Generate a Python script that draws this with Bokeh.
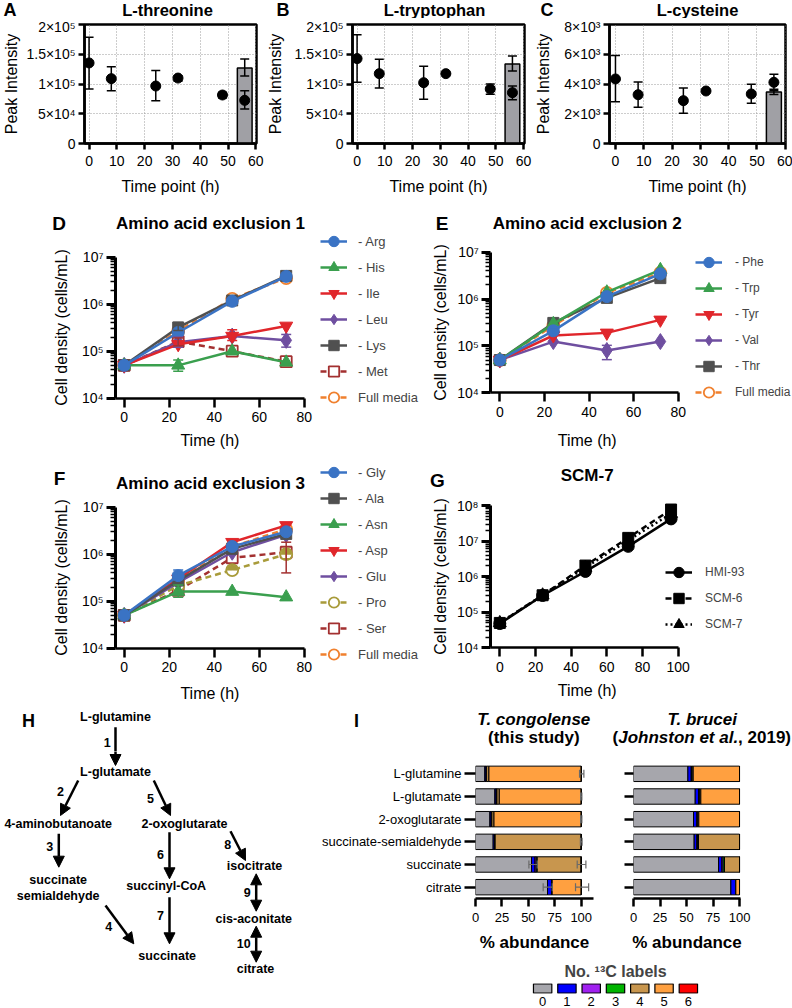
import numpy as np
from bokeh.plotting import figure
from bokeh.layouts import row, column
from bokeh.models import (ColumnDataSource, Range1d, FactorRange, FixedTicker, CustomJSTickFormatter,
                          Whisker, TeeHead, Label, Legend, LegendItem, Arrow, NormalHead)
from bokeh.core.properties import value
from bokeh.embed import file_html
from bokeh.resources import INLINE

FONT = "Liberation Sans"

# ---------------- data: panels A-C ----------------
TIME_PT = [0, 8, 24, 32, 48, 56]
BAR_X = [56]
TIME_TICKS_ABC = [0, 10, 20, 30, 40, 50, 60]

THR_MEAN = [1.354e5, 1.09e5, 0.966e5, 1.10e5, 0.815e5, 0.725e5]
THR_LO = [0.916e5, 0.888e5, 0.719e5, 1.045e5, 0.764e5, 0.579e5]
THR_HI = [1.787e5, 1.29e5, 1.225e5, 1.14e5, 0.86e5, 0.888e5]
THR_BAR = [1.27e5]
THR_BAR_LO = [1.135e5]
THR_BAR_HI = [1.42e5]

TRP_MEAN = [1.427e5, 1.174e5, 1.022e5, 1.174e5, 0.916e5, 0.854e5]
TRP_LO = [1.028e5, 0.933e5, 0.742e5, 1.174e5, 0.826e5, 0.736e5]
TRP_HI = [1.826e5, 1.416e5, 1.298e5, 1.174e5, 1.0e5, 0.966e5]
TRP_BAR = [1.337e5]
TRP_BAR_LO = [1.22e5]
TRP_BAR_HI = [1.47e5]

CYS_MEAN = [4.34e3, 3.28e3, 2.88e3, 3.53e3, 3.33e3, 4.11e3]
CYS_LO = [2.81e3, 2.43e3, 2.04e3, 3.53e3, 2.70e3, 3.55e3]
CYS_HI = [5.91e3, 4.13e3, 3.73e3, 3.53e3, 3.98e3, 4.65e3]
CYS_BAR = [3.46e3]
CYS_BAR_LO = [3.30e3]
CYS_BAR_HI = [3.64e3]

AB_YTICKS = [0, 5e4, 1e5, 1.5e5, 2e5]
AB_YLABELS = ["0", "5×10⁴", "1×10⁵", "1.5×10⁵", "2×10⁵"]
C_YTICKS = [0, 2e3, 4e3, 6e3, 8e3]
C_YLABELS = ["0", "2×10³", "4×10³", "6×10³", "8×10³"]

# ---------------- data: panels D-G ----------------
TIME_G = [0, 24, 48, 72]
TIME_SCM = [0, 24, 48, 72, 96]
T80_TICKS = [0, 20, 40, 60, 80]
T100_TICKS = [0, 20, 40, 60, 80, 100]
LOG7_TICKS = [1e4, 1e5, 1e6, 1e7]
LOG7_LABELS = ["10⁴", "10⁵", "10⁶", "10⁷"]
LOG8_TICKS = [1e4, 1e5, 1e6, 1e7, 1e8]
LOG8_LABELS = ["10⁴", "10⁵", "10⁶", "10⁷", "10⁸"]

D_NAMES = ["- Arg", "- His", "- Ile", "- Leu", "- Lys", "- Met", "Full media"]
D_ARG = [5.0e4, 2.5e5, 1.15e6, 3.9e6]
D_HIS = [5.0e4, 5.0e4, 1.0e5, 5.8e4]
D_ILE = [5.0e4, 1.4e5, 2.1e5, 3.45e5]
D_LEU = [5.0e4, 1.55e5, 2.1e5, 1.7e5]
D_LYS = [5.0e4, 3.2e5, 1.2e6, 4.0e6]
D_MET = [5.0e4, 1.6e5, 1.0e5, 6.0e4]
D_FULL = [5.0e4, 2.7e5, 1.3e6, 3.6e6]
D_ERR_NAME = ["- His", "- Ile", "- Leu", "- Leu", "- Lys", "- Met"]
D_ERR_T = [24, 48, 24, 72, 24, 24]
D_ERR_LO = [3.75e4, 1.69e5, 1.22e5, 1.22e5, 2.76e5, 1.3e5]
D_ERR_HI = [6.5e4, 2.85e5, 2.0e5, 2.27e5, 4.1e5, 1.9e5]

E_NAMES = ["- Phe", "- Trp", "- Tyr", "- Val", "- Thr", "Full media"]
E_PHE = [5.0e4, 2.1e5, 1.13e6, 3.45e6]
E_TRP = [5.0e4, 2.96e5, 1.4e6, 4.2e6]
E_TYR = [5.0e4, 1.67e5, 1.9e5, 3.6e5]
E_VAL = [5.0e4, 1.24e5, 8.0e4, 1.24e5]
E_THR = [5.0e4, 3.1e5, 1.06e6, 2.8e6]
E_FULL = [5.0e4, 2.7e5, 1.35e6, 3.6e6]
E_ERR_NAME = ["- Val", "- Phe"]
E_ERR_T = [48, 24]
E_ERR_LO = [5.1e4, 1.75e5]
E_ERR_HI = [1.03e5, 2.5e5]

F_NAMES = ["- Gly", "- Ala", "- Asn", "- Asp", "- Glu", "- Pro", "- Ser", "Full media"]
F_GLY = [5.0e4, 3.5e5, 1.46e6, 3.0e6]
F_ALA = [5.0e4, 2.75e5, 1.3e6, 2.7e6]
F_ASN = [5.0e4, 1.6e5, 1.6e5, 1.22e5]
F_ASP = [5.0e4, 3.0e5, 1.8e6, 4.1e6]
F_GLU = [5.0e4, 2.5e5, 1.1e6, 2.6e6]
F_PRO = [5.0e4, 2.15e5, 4.6e5, 1.0e6]
F_SER = [5.0e4, 1.7e5, 8.4e5, 1.1e6]
F_FULL = [5.0e4, 2.75e5, 1.45e6, 3.4e6]
F_ERR_NAME = ["- Gly", "- Asn", "- Ser", "- Pro"]
F_ERR_T = [24, 24, 72, 72]
F_ERR_LO = [2.9e5, 1.22e5, 4.0e5, 8.0e5]
F_ERR_HI = [4.6e5, 2.2e5, 1.8e6, 1.25e6]

G_NAMES = ["HMI-93", "SCM-6", "SCM-7"]
G_HMI = [4.8e4, 2.95e5, 1.4e6, 7.1e6, 4.2e7]
G_SCM6 = [5.0e4, 3.0e5, 2.05e6, 1.23e7, 7.7e7]
G_SCM7 = [5.0e4, 3.0e5, 1.8e6, 1.05e7, 5.9e7]

# ---------------- data: panel H (pathway diagram) ----------------
H_NODES = ["L-glutamine", "L-glutamate", "4-aminobutanoate", "2-oxoglutarate", "succinate",
           "semialdehyde", "succinyl-CoA", "isocitrate", "cis-aconitate", "succinate", "citrate"]
H_STEPS = ["1", "2", "3", "4", "5", "6", "7", "8", "9", "10"]
H_REVERSIBLE = [False, False, False, False, False, False, False, False, True, True]
# diagram layout (page pixels)
H_NODE_X = [115, 115, 57.7, 184, 57.7, 57.7, 165.7, 254, 253.3, 166.7, 255]
H_NODE_Y = [716.7, 771.7, 823.3, 823.3, 879, 895.7, 885.7, 865.7, 918.3, 955, 968.3]
H_ARR_X0 = [115, 77.7, 58.3, 105, 153.3, 169, 169, 230, 255.7, 255.7]
H_ARR_Y0 = [726.7, 780, 833.3, 905, 780, 831.7, 896.7, 830.7, 873.3, 925.7]
H_ARR_X1 = [115, 60, 58.3, 133.3, 170, 169, 169, 245, 255.7, 255.7]
H_ARR_Y1 = [765, 815, 866.7, 943.3, 815, 878.3, 943.3, 860, 910.7, 961.7]
H_LAB_X = [106.7, 60, 49.3, 108.3, 150, 160, 160, 227.3, 246.7, 243.3]
H_LAB_Y = [741.7, 790.7, 845.7, 926, 798.3, 854, 915, 844, 892.3, 943.3]

# ---------------- data: panel I (13C labelling) ----------------
METABS = ["L-glutamine", "L-glutamate", "2-oxoglutarate", "succinate-semialdehyde", "succinate", "citrate"]
N13C = ["0", "1", "2", "3", "4", "5", "6"]
TC_M0 = [8.8, 18.3, 13.6, 16.7, 53.0, 68.1]
TC_M1 = [1.2, 1.2, 1.2, 1.2, 3.2, 4.4]
TC_M2 = [0.3, 0.5, 0.4, 0.4, 1.2, 0.0]
TC_M3 = [0.2, 0.3, 0.3, 0.3, 1.0, 0.0]
TC_M4 = [2.2, 2.2, 2.0, 81.4, 41.6, 0.0]
TC_M5 = [87.3, 77.5, 82.5, 0.0, 0.0, 27.5]
TC_M6 = [0.0, 0.0, 0.0, 0.0, 0.0, 0.0]
TB_M0 = [51.3, 58.2, 56.6, 57.2, 80.2, 91.8]
TB_M1 = [3.1, 3.1, 3.1, 2.5, 3.1, 4.7]
TB_M2 = [0.5, 0.6, 0.5, 0.6, 1.2, 0.0]
TB_M3 = [0.4, 0.5, 0.4, 1.0, 1.3, 0.0]
TB_M4 = [1.0, 1.1, 1.0, 38.7, 14.2, 0.0]
TB_M5 = [43.7, 36.5, 38.4, 0.0, 0.0, 3.5]
TB_M6 = [0.0, 0.0, 0.0, 0.0, 0.0, 0.0]
TC_ERR_MET = ["L-glutamine", "L-glutamate", "2-oxoglutarate", "succinate-semialdehyde",
              "succinate", "succinate", "citrate", "citrate"]
TC_ERR_LO = [98.4, 99.4, 99.4, 99.2, 50.5, 96.2, 64.0, 94.6]
TC_ERR_HI = [102.5, 100.6, 100.6, 100.8, 58.4, 104.4, 72.6, 107.0]
I_XTICKS = [0, 25, 50, 75, 100]

# ---------------- styles ----------------
BLUE, GREEN, RED, PURPLE = "#3A73C4", "#3A9F4E", "#E0262B", "#6F4FA0"
GRAY, DARKRED, ORANGE, OLIVE = "#505050", "#A33030", "#F0802E", "#A89B3A"
BAR_GRAY = "#A0A0A5"
LABEL_COLORS = ["#A6A6AC", "#0000FF", "#A020F0", "#00B400", "#C8964E", "#FFA040", "#FF0000"]
MSIZE = {"circle": 12, "square": 11, "triangle": 13, "inverted_triangle": 13, "diamond": 16, "half": 12}
BAR_W = 5.3


def new_fig(w, h, xr, yr, ytype="linear", xloc="below", yloc="left", l=0, r=0, t=0, b=0):
    p = figure(width=w, height=h, x_range=xr, y_range=yr, y_axis_type=ytype,
               x_axis_location=xloc, y_axis_location=yloc, title=None,
               output_backend="svg", toolbar_location=None,
               min_border_left=l, min_border_right=r, min_border_top=t, min_border_bottom=b)
    p.background_fill_color = "white"
    p.border_fill_color = "white"
    p.outline_line_color = None
    p.grid.visible = False
    return p


def style_axis(ax, lw=2.5, tick_out=8, size="14px", standoff=4):
    ax.axis_line_width = lw
    ax.axis_line_color = "black"
    ax.major_tick_line_width = lw
    ax.major_tick_line_color = "black"
    ax.major_tick_out = tick_out
    ax.major_tick_in = 0
    ax.minor_tick_line_color = None
    ax.major_label_text_font = FONT
    ax.major_label_text_font_size = size
    ax.major_label_text_color = "black"
    ax.major_label_standoff = standoff
    ax.axis_label_text_font = FONT
    ax.axis_label_text_font_style = "normal"
    ax.axis_label_text_color = "black"


def fixed_labels(vals, labs):
    return CustomJSTickFormatter(args=dict(vals=vals, labs=labs), code="""
        for (let i = 0; i < vals.length; i++) {
            if (Math.abs(vals[i] - tick) <= 1e-6 * Math.max(1, Math.abs(vals[i]))) return labs[i];
        }
        return "";
    """)


class Strip:
    """A text-only canvas whose data units are page pixels (offset by its page origin)."""

    def __init__(self, w, h, px0, py0):
        self.px0, self.py0, self.w, self.h = px0, py0, w, h
        self.p = new_fig(w, h, Range1d(0, w), Range1d(h, 0), xloc=None, yloc=None)

    def text(self, x, y, text, size, style="normal", align="center"):
        self.p.text(x=[x - self.px0], y=[y - self.py0], text=[text], text_font=value(FONT),
                    text_font_size=size, text_font_style=style, text_align=align,
                    text_baseline="middle", text_color="black")


def slabel(p, cx0, cy1, px, py, text, size, style="normal", align="center", angle=0.0):
    p.add_layout(Label(x=px - cx0, y=cy1 - py, x_units="screen", y_units="screen", text=text,
                       text_font=FONT, text_font_size=size, text_font_style=style,
                       text_align=align, text_baseline="middle", angle=angle, text_color="black"))


def whisk(p, xs, lo, hi, color, size=10, lw=1.5):
    src = ColumnDataSource(dict(x=xs, lo=lo, hi=hi))
    w = Whisker(source=src, base="x", lower="lo", upper="hi", dimension="height",
                line_color=color, line_width=lw, level="glyph",
                upper_head=TeeHead(size=size, line_color=color, line_width=lw),
                lower_head=TeeHead(size=size, line_color=color, line_width=lw))
    p.add_layout(w)


# ---------------- row 1: panels A-C ----------------
strip1 = Strip(792, 18, 0, 0)
for txt, x, al, sz in [("A", 3, "left", "18px"), ("L-threonine", 167, "center", "16.5px"),
                       ("B", 276, "left", "18px"), ("L-tryptophan", 434, "center", "16.5px"),
                       ("C", 540, "left", "18px"), ("L-cysteine", 697, "center", "16.5px")]:
    strip1.text(x, 9, txt, sz, "bold", al)


def intensity_panel(w, l, r, xr, yt, ylabs, mean, lo, hi, bar, bar_lo, bar_hi, ylab_standoff):
    p = new_fig(w, 192, Range1d(*xr), Range1d(yt[0], yt[-1]), l=l, r=r, t=6, b=67)
    p.outline_line_color = "black"
    p.outline_line_width = 2.5
    xa, ya = p.xaxis[0], p.yaxis[0]
    style_axis(xa, tick_out=6, size="14px", standoff=6)
    style_axis(ya, tick_out=6, size="14px", standoff=3)
    xa.ticker = FixedTicker(ticks=TIME_TICKS_ABC)
    ya.ticker = FixedTicker(ticks=yt)
    ya.formatter = fixed_labels(yt, ylabs)
    xa.axis_label = "Time point (h)"
    xa.axis_label_text_font_size = "16px"
    xa.axis_label_standoff = 9
    ya.axis_label = "Peak Intensity"
    ya.axis_label_text_font_size = "16px"
    ya.axis_label_standoff = ylab_standoff
    for g in (p.xgrid[0], p.ygrid[0]):
        g.visible = True
        g.grid_line_color = "#9a9a9a"
        g.grid_line_dash = "1 2"
        g.grid_line_width = 1
    p.vbar(x=BAR_X, top=bar, bottom=0, width=BAR_W, fill_color=BAR_GRAY, line_color="black", line_width=1.5)
    whisk(p, BAR_X, bar_lo, bar_hi, "black", 9)
    whisk(p, TIME_PT, lo, hi, "black", 9)
    p.scatter(TIME_PT, mean, marker="circle", size=10, fill_color="black", line_color="black")
    return p


fa = intensity_panel(264, 79, 8, (-1.64, 60.24), AB_YTICKS, AB_YLABELS, THR_MEAN, THR_LO, THR_HI,
                     THR_BAR, THR_BAR_LO, THR_BAR_HI, 3)
fb = intensity_panel(268, 83, 8, (-1.65, 60.35), AB_YTICKS, AB_YLABELS, TRP_MEAN, TRP_LO, TRP_HI,
                     TRP_BAR, TRP_BAR_LO, TRP_BAR_HI, 7)
fc = intensity_panel(260, 76, 7, (-2.11, 60.1), C_YTICKS, C_YLABELS, CYS_MEAN, CYS_LO, CYS_HI,
                     CYS_BAR, CYS_BAR_LO, CYS_BAR_HI, 9)


# ---------------- rows 2-3: panels D-G ----------------
def growth_panel(cx0, cy0, cw, ch, x0px, xppu, axis_px, yref_px, yref_dec, ppd, xmax, xticks, yticks, ylabels,
                 times, names, values, styles, err_names, err_t, err_lo, err_hi,
                 title, title_xy, letter, letter_xy, ylab_xy, xlab_xy, leg_x, leg_top, leg_font, leg_standoff):
    xr = Range1d((cx0 - x0px) / xppu, (cx0 + cw - x0px) / xppu)
    top_dec = yref_dec + (yref_px - cy0) / ppd
    bot_dec = yref_dec - (cy0 + ch - yref_px) / ppd
    p = new_fig(cw, ch, xr, Range1d(10 ** bot_dec, 10 ** top_dec), ytype="log")
    x_axis_at = (axis_px - x0px) / xppu
    xa, ya = p.xaxis[0], p.yaxis[0]
    style_axis(xa, lw=2.5, tick_out=9, size="14px", standoff=5)
    style_axis(ya, lw=3, tick_out=9, size="14px", standoff=3)
    xa.fixed_location = yticks[0]
    xa.bounds = (x_axis_at, xmax)
    ya.fixed_location = x_axis_at
    ya.bounds = (yticks[0], yticks[-1])
    xa.ticker = FixedTicker(ticks=xticks)
    minor = [k * d for d in yticks[:-1] for k in range(2, 10)]
    ya.ticker = FixedTicker(ticks=yticks, minor_ticks=minor)
    ya.formatter = fixed_labels(yticks, ylabels)
    ya.minor_tick_line_color = "black"
    ya.minor_tick_line_width = 1.5
    ya.minor_tick_out = 5
    ya.minor_tick_in = 0

    rends = {}
    for name, ys, (color, marker, dash, opn) in reversed(list(zip(names, values, styles))):
        src = ColumnDataSource(dict(t=times, y=ys))
        ln = p.line("t", "y", source=src, line_color=color, line_width=2.5, line_dash=dash)
        sc_marker = "circle" if marker == "half" else marker
        sc = p.scatter("t", "y", source=src, marker=sc_marker, size=MSIZE[marker],
                       fill_color="white" if opn else color, line_color=color,
                       line_width=1.8 if opn else 1)
        if marker == "half":
            p.wedge("t", "y", source=src, radius=5.2, radius_units="screen", start_angle=0,
                    end_angle=np.pi, fill_color=color, line_color=color, line_width=1)
        rends[name] = [ln, sc]
    for name, (color, _, _, _) in zip(names, styles):
        idx = [i for i, n in enumerate(err_names) if n == name]
        if idx:
            whisk(p, [err_t[i] for i in idx], [err_lo[i] for i in idx], [err_hi[i] for i in idx], color, 10)

    n = len(names)
    items = [LegendItem(label=nm, renderers=rends[nm]) for nm in names]
    leg = Legend(items=items, location=(leg_x - cx0, (cy0 + ch) - (leg_top + 26 * n)),
                 orientation="vertical", glyph_width=27, glyph_height=26,
                 label_height=26, label_width=20, spacing=0, padding=0, margin=0, label_standoff=leg_standoff,
                 border_line_color=None, background_fill_alpha=0, label_text_font=FONT,
                 label_text_font_size=leg_font, label_text_baseline="middle")
    p.add_layout(leg)
    cy1 = cy0 + ch
    slabel(p, cx0, cy1, title_xy[0], title_xy[1], title, "17px", "bold")
    slabel(p, cx0, cy1, letter_xy[0], letter_xy[1], letter, "19px", "bold")
    slabel(p, cx0, cy1, ylab_xy[0], ylab_xy[1], "Cell density (cells/mL)", "16px", angle=np.pi / 2)
    slabel(p, cx0, cy1, xlab_xy[0], xlab_xy[1], "Time (h)", "16px")
    return p


D_STYLES = [(BLUE, "circle", "solid", False), (GREEN, "triangle", "solid", False),
            (RED, "inverted_triangle", "solid", False), (PURPLE, "diamond", "solid", False),
            (GRAY, "square", "solid", False), (DARKRED, "square", "6 4", True), (ORANGE, "circle", "6 4", True)]
E_STYLES = [(BLUE, "circle", "solid", False), (GREEN, "triangle", "solid", False),
            (RED, "inverted_triangle", "solid", False), (PURPLE, "diamond", "solid", False),
            (GRAY, "square", "solid", False), (ORANGE, "circle", "6 4", True)]
F_STYLES = [(BLUE, "circle", "solid", False), (GRAY, "square", "solid", False),
            (GREEN, "triangle", "solid", False), (RED, "inverted_triangle", "solid", False),
            (PURPLE, "diamond", "solid", False), (OLIVE, "half", "6 4", True),
            (DARKRED, "square", "6 4", True), (ORANGE, "circle", "6 4", True)]
G_STYLES = [("black", "circle", "solid", False), ("black", "square", "6 4", False),
            ("black", "triangle", "2 3", False)]

fd = growth_panel(0, 210, 420, 250, 123.7, 2.25, 115, 256.7, 7, 47, 80, T80_TICKS, LOG7_TICKS, LOG7_LABELS,
                  TIME_G, D_NAMES, [D_ARG, D_HIS, D_ILE, D_LEU, D_LYS, D_MET, D_FULL], D_STYLES,
                  D_ERR_NAME, D_ERR_T, D_ERR_LO, D_ERR_HI, "Amino acid exclusion 1", (210, 223), "D", (58.5, 223),
                  (60.5, 327), (209.4, 440), 320, 228, "13px", 11)
fe = growth_panel(420, 210, 372, 250, 499.3, 2.23, 490.3, 251.7, 7, 46.87, 80, T80_TICKS, LOG7_TICKS, LOG7_LABELS,
                  TIME_G, E_NAMES, [E_PHE, E_TRP, E_TYR, E_VAL, E_THR, E_FULL], E_STYLES,
                  E_ERR_NAME, E_ERR_T, E_ERR_LO, E_ERR_HI, "Amino acid exclusion 2", (586.7, 222.7), "E", (441.7, 223),
                  (440, 322), (586.7, 440), 695, 248.7, "12px", 13)
ff = growth_panel(0, 460, 420, 250, 123.7, 2.25, 115, 506.7, 7, 47, 80, T80_TICKS, LOG7_TICKS, LOG7_LABELS,
                  TIME_G, F_NAMES, [F_GLY, F_ALA, F_ASN, F_ASP, F_GLU, F_PRO, F_SER, F_FULL], F_STYLES,
                  F_ERR_NAME, F_ERR_T, F_ERR_LO, F_ERR_HI, "Amino acid exclusion 3", (210, 483.3), "F", (59, 478),
                  (60.5, 577), (209.4, 693.3), 320, 459.3, "13px", 11)
fg = growth_panel(420, 460, 372, 250, 499.3, 1.784, 490, 505, 8, 35.575, 100, T100_TICKS, LOG8_TICKS, LOG8_LABELS,
                  TIME_SCM, G_NAMES, [G_HMI, G_SCM6, G_SCM7], G_STYLES,
                  [], [], [], [], "SCM-7", (586.7, 475), "G", (437, 480),
                  (440, 576), (586.7, 690), 665, 558.7, "12px", 13)

# ---------------- row 4 top band (H top + I titles) and panel H ----------------
SPLIT_Y = 751
top_h = Strip(300, SPLIT_Y - 710, 0, 710)      # upper part of the pathway diagram
top_i = Strip(492, SPLIT_Y - 710, 300, 710)    # titles of panel I
hs = Strip(300, 1008 - SPLIT_Y, 0, SPLIT_Y)    # rest of the pathway diagram

for nm, x, y in zip(H_NODES, H_NODE_X, H_NODE_Y):
    (top_h if y < SPLIT_Y else hs).text(x, y, nm, "12.5px", "bold")
for st, x, y in zip(H_STEPS, H_LAB_X, H_LAB_Y):
    (top_h if y < SPLIT_Y else hs).text(x, y, st, "12.5px", "bold")


def head():
    return NormalHead(size=11, fill_color="black", line_color="black", line_width=1)


for x0, y0, x1, y1, rev in zip(H_ARR_X0, H_ARR_Y0, H_ARR_X1, H_ARR_Y1, H_REVERSIBLE):
    if y0 < SPLIT_Y:
        xs = x0 + (x1 - x0) * (SPLIT_Y - y0) / (y1 - y0)
        top_h.p.segment(x0=[x0 - top_h.px0], y0=[y0 - top_h.py0], x1=[xs - top_h.px0], y1=[top_h.h + 2],
                        line_color="black", line_width=2.5)
        x0, y0 = xs, SPLIT_Y - 2
    hs.p.add_layout(Arrow(x_start=x0 - hs.px0, y_start=y0 - hs.py0, x_end=x1 - hs.px0, y_end=y1 - hs.py0,
                          line_width=2.5, line_color="black", start=head() if rev else None, end=head()))
top_h.text(28, 720, "H", "18px", "bold")

top_i.text(356, 720, "I", "18px", "bold")
top_i.text(533.3, 719, "T. congolense", "17px", "bold italic")
top_i.text(533.3, 737, "(this study)", "17px", "bold")
top_i.text(701.7, 719, "T. brucei", "17px", "bold italic")
top_i.text(612.0, 737, "(", "17px", "bold", "left")
top_i.text(617.7, 737, "Johnston et al.", "17px", "bold italic", "left")
top_i.text(737.6, 737, ", 2019)", "17px", "bold", "left")


# ---------------- panel I ----------------
def iso_panel(w, l, r, xmax, cols, show_labels, tick_len):
    p = new_fig(w, 955 - SPLIT_Y, Range1d(0, xmax), FactorRange(factors=list(reversed(METABS))), ytype="auto",
                l=l, r=r, t=762 - SPLIT_Y, b=57)
    src = ColumnDataSource(dict(metabolite=METABS, **{k: v for k, v in zip(N13C, cols)}))
    p.hbar_stack(N13C, y="metabolite", height=0.68, source=src, fill_color=LABEL_COLORS,
                 line_color="black", line_width=1)
    xa, ya = p.xaxis[0], p.yaxis[0]
    style_axis(xa, lw=2.5, tick_out=8, size="13px", standoff=6)
    xa.ticker = FixedTicker(ticks=I_XTICKS)
    xa.axis_label = "% abundance"
    xa.axis_label_text_font_size = "17px"
    xa.axis_label_text_font_style = "bold"
    xa.axis_label_standoff = 8
    style_axis(ya, lw=2.5, tick_out=tick_len, size="13px", standoff=3)
    ya.axis_line_color = None
    if not show_labels:
        ya.formatter = CustomJSTickFormatter(code="return '';")
        ya.major_label_standoff = 0
    return p


fi1 = iso_panel(304, 175, 11, 111.6, [TC_M0, TC_M1, TC_M2, TC_M3, TC_M4, TC_M5, TC_M6], True, 11)
esrc = ColumnDataSource(dict(met=TC_ERR_MET, lo=TC_ERR_LO, hi=TC_ERR_HI))
fi1.segment(x0="lo", x1="hi", y0="met", y1="met", source=esrc, line_color="#6a6a6a", line_width=1.2)
fi1.scatter(x="lo", y="met", source=esrc, marker="dash", angle=np.pi / 2, size=8, line_color="#6a6a6a", line_width=1.2)
fi1.scatter(x="hi", y="met", source=esrc, marker="dash", angle=np.pi / 2, size=8, line_color="#6a6a6a", line_width=1.2)
fi2 = iso_panel(188, 29, 52, 100.9, [TB_M0, TB_M1, TB_M2, TB_M3, TB_M4, TB_M5, TB_M6], False, 9)

# legend of 13C labels
fl = new_fig(492, 53, FactorRange(factors=N13C), Range1d(0, 1), yloc=None, l=230, r=92, t=28, b=15)
fl.title = "No. ¹³C labels"
fl.title.align = "center"
fl.title.text_font = FONT
fl.title.text_font_size = "16px"
fl.title.text_font_style = "bold"
fl.title.standoff = 8
fl.rect(x=N13C, y=0.5, width=0.756, height=0.93, fill_color=LABEL_COLORS, line_color="black", line_width=1.2)
la = fl.xaxis[0]
style_axis(la, lw=1, tick_out=0, size="13px", standoff=3)
la.axis_line_color = None
la.major_tick_line_color = None

layout = column(
    strip1.p,
    row(fa, fb, fc),
    row(fd, fe),
    row(ff, fg),
    row(top_h.p, top_i.p),
    row(hs.p, column(row(fi1, fi2), fl)),
)
open("out.html", "w").write(file_html(layout, INLINE, title="figure"))
